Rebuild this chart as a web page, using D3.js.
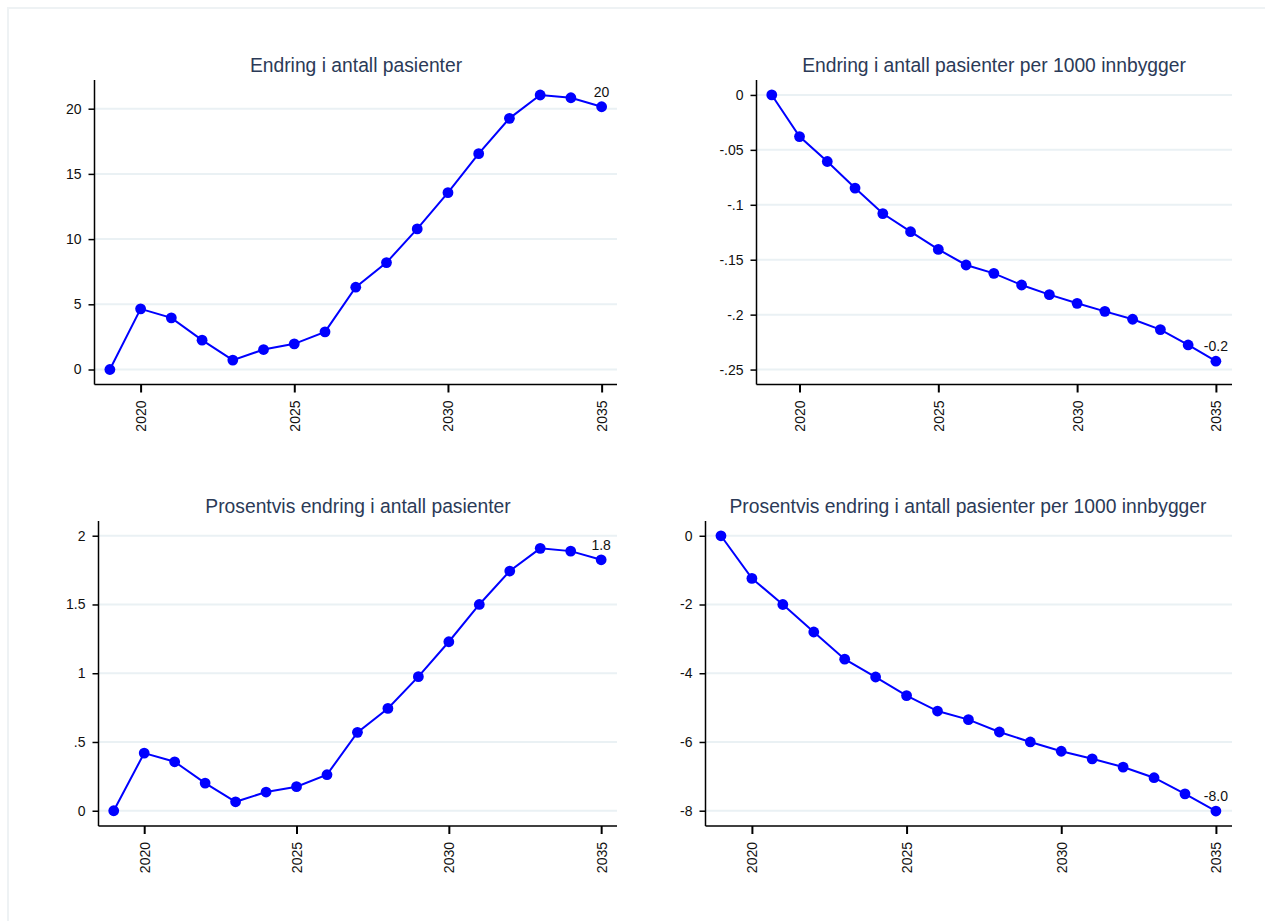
<!DOCTYPE html>
<html>
<head>
<meta charset="utf-8">
<script src="https://cdn.jsdelivr.net/npm/d3@7/dist/d3.min.js"></script>
<style>
  body { margin: 0; background: #fff; }
  svg { display: block; }
  text { font-family: "Liberation Sans", Arial, sans-serif; }
</style>
</head>
<body>
<svg id="chart" width="1265" height="921"></svg>
<script>
const years = [2019,2020,2021,2022,2023,2024,2025,2026,2027,2028,2029,2030,2031,2032,2033,2034,2035];
const xTicks = [2020, 2025, 2030, 2035];

const titles = [
  "Endring i antall pasienter",
  "Endring i antall pasienter per 1000 innbygger",
  "Prosentvis endring i antall pasienter",
  "Prosentvis endring i antall pasienter per 1000 innbygger"
];

const changeCount = [0, 4.65, 3.96, 2.25, 0.72, 1.53, 1.97, 2.89, 6.31, 8.2, 10.78, 13.56, 16.55, 19.26, 21.05, 20.84, 20.15];
const changePer1000 = [0, -0.0379, -0.0606, -0.0848, -0.108, -0.1245, -0.1406, -0.1548, -0.1624, -0.173, -0.1818, -0.1897, -0.197, -0.2042, -0.2136, -0.2276, -0.2424];
const pctCount = [0, 0.419, 0.356, 0.201, 0.065, 0.136, 0.175, 0.262, 0.57, 0.744, 0.975, 1.229, 1.5, 1.743, 1.908, 1.888, 1.825];
const pctPer1000 = [0, -1.24, -2.0, -2.80, -3.59, -4.11, -4.65, -5.10, -5.35, -5.71, -6.0, -6.27, -6.49, -6.73, -7.04, -7.51, -8.01];

const yTicks1 = [0, 5, 10, 15, 20];
const yTickLabels1 = ["0", "5", "10", "15", "20"];
const yTicks2 = [0, -0.05, -0.1, -0.15, -0.2, -0.25];
const yTickLabels2 = ["0", "-.05", "-.1", "-.15", "-.2", "-.25"];
const yTicks3 = [0, 0.5, 1, 1.5, 2];
const yTickLabels3 = ["0", ".5", "1", "1.5", "2"];
const yTicks4 = [0, -2, -4, -6, -8];
const yTickLabels4 = ["0", "-2", "-4", "-6", "-8"];

const endLabels = ["20", "-0.2", "1.8", "-8.0"];

const seriesList = [changeCount, changePer1000, pctCount, pctPer1000];
const yTickList = [yTicks1, yTicks2, yTicks3, yTicks4];
const yTickLabelList = [yTickLabels1, yTickLabels2, yTickLabels3, yTickLabels4];

// layout (pixels) per panel
const layout = [
  {left: 94.5, right: 617, top: 80, bottom: 384.5, yDom: [-1.15, 22.2], xDom: [2018.5, 2035.5], titleX: 356, titleY: 72},
  {left: 756.5, right: 1232, top: 80, bottom: 384.5, yDom: [-0.2636, 0.0136], xDom: [2018.45, 2035.58], titleX: 994, titleY: 72},
  {left: 98.5, right: 617, top: 521, bottom: 826, yDom: [-0.111, 2.107], xDom: [2018.5, 2035.52], titleX: 358, titleY: 513},
  {left: 705.5, right: 1232, top: 521, bottom: 826, yDom: [-8.445, 0.43], xDom: [2018.5, 2035.52], titleX: 968, titleY: 513}
];

const svg = d3.select("#chart");

// outer light frame
svg.append("rect").attr("x", 8).attr("y", 8).attr("width", 1270).attr("height", 930)
  .attr("fill", "none").attr("stroke", "#eef2f4").attr("stroke-width", 2);

const blue = "#0000ff";
const fontFam = "'Liberation Sans', Arial, sans-serif";

seriesList.forEach((vals, i) => {
  const L = layout[i];
  const x = d3.scaleLinear().domain(L.xDom).range([L.left, L.right]);
  const y = d3.scaleLinear().domain(L.yDom).range([L.bottom, L.top]);
  const g = svg.append("g");

  // title
  g.append("text").attr("x", L.titleX).attr("y", L.titleY)
    .attr("text-anchor", "middle").attr("font-size", 19.3).attr("fill", "#2b3a57")
    .text(titles[i]);

  // gridlines
  g.append("g").selectAll("line").data(yTickList[i]).join("line")
    .attr("x1", L.left).attr("x2", L.right)
    .attr("y1", d => y(d)).attr("y2", d => y(d))
    .attr("stroke", "#eaf1f4").attr("stroke-width", 2);

  // y axis
  const tl = yTickLabelList[i];
  const yAxis = d3.axisLeft(y).tickValues(yTickList[i])
    .tickFormat((d, k) => tl[k]).tickSize(6).tickPadding(7);
  const ya = g.append("g").attr("transform", `translate(${L.left},0)`).call(yAxis);
  ya.select(".domain").attr("d", `M0,${L.top}V${L.bottom}`).attr("stroke", "#000").attr("stroke-width", 1.5);
  ya.selectAll(".tick line").attr("stroke", "#000").attr("stroke-width", 1.5);
  ya.selectAll(".tick text").attr("font-size", 14).attr("fill", "#111")
    .attr("font-family", fontFam);

  // x axis
  const xAxis = d3.axisBottom(x).tickValues(xTicks).tickFormat(d3.format("d")).tickSize(8);
  const xa = g.append("g").attr("transform", `translate(0,${L.bottom})`).call(xAxis);
  xa.select(".domain").attr("d", `M${L.left},0H${L.right}`).attr("stroke", "#000").attr("stroke-width", 1.5);
  xa.selectAll(".tick line").attr("stroke", "#000").attr("stroke-width", 2);
  xa.selectAll(".tick text").attr("font-size", 14).attr("fill", "#111")
    .attr("font-family", fontFam)
    .attr("transform", "rotate(-90)")
    .attr("text-anchor", "end").attr("x", -16).attr("y", 0).attr("dy", "0.35em");

  // line
  const line = d3.line().x((d, k) => x(years[k])).y(d => y(d));
  g.append("path").datum(vals).attr("d", line)
    .attr("fill", "none").attr("stroke", blue).attr("stroke-width", 2);

  // markers
  g.append("g").selectAll("circle").data(vals).join("circle")
    .attr("cx", (d, k) => x(years[k])).attr("cy", d => y(d)).attr("r", 5.4)
    .attr("fill", blue);

  // end label
  const last = vals.length - 1;
  g.append("text").attr("x", x(years[last])).attr("y", y(vals[last]) - 10)
    .attr("text-anchor", "middle").attr("font-size", 14).attr("fill", "#111")
    .text(endLabels[i]);
});
</script>
</body>
</html>
